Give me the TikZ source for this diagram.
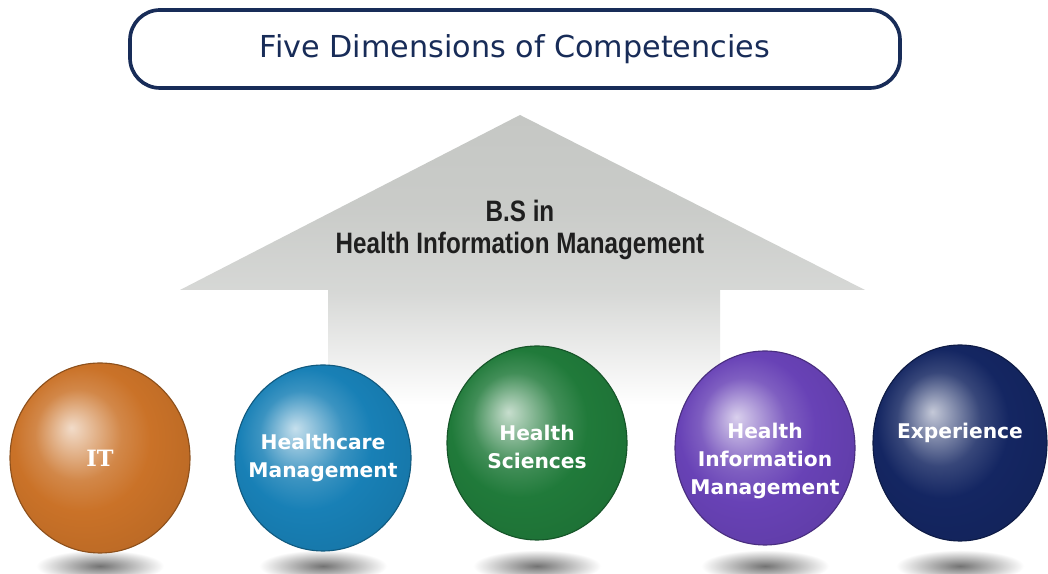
\documentclass[tikz,border=0pt]{standalone}
\usepackage{fontspec}
\setmainfont{DejaVu Sans}
\newfontfamily\narrowsans[FakeStretch=0.82]{Liberation Sans}
\newfontfamily\slabfont{DejaVu Serif}
\usetikzlibrary{shapes.geometric}

\definecolor{titlenavy}{RGB}{24,44,88}
\definecolor{arrowgray}{RGB}{197,199,196}
\definecolor{itorange}{RGB}{202,114,40}
\definecolor{hcblue}{RGB}{24,128,182}
\definecolor{hsgreen}{RGB}{32,122,58}
\definecolor{himpurple}{RGB}{104,66,182}
\definecolor{expnavy}{RGB}{20,38,98}

% glossy ball, highlight up left, colour taken from "orb"
\colorlet{orb}{itorange}
\pgfdeclareradialshading[orb]{orbshade}{\pgfqpoint{-8bp}{8bp}}{%
  color(0bp)=(orb!25!white); color(5bp)=(orb!50!white);
  color(12bp)=(orb!85!white); color(19bp)=(orb);
  color(30bp)=(orb!93!black); color(38bp)=(orb!80!black);
  color(50bp)=(orb!75!black)}
% big arrow: grey head, shaft fading out
\pgfdeclareverticalshading{arrowfade}{100bp}{%
  color(0bp)=(white); color(29bp)=(white);
  color(47bp)=(arrowgray!70!white); color(60bp)=(arrowgray!92!white);
  color(75bp)=(arrowgray); color(100bp)=(arrowgray)}

\begin{document}
\begin{tikzpicture}[
  titlebox/.style={rectangle, draw=titlenavy, line width=2.6pt, fill=white, rounded corners=0.75cm,
    minimum width=19.25cm, minimum height=1.95cm, text=titlenavy, font=\fontsize{21.5}{26}\selectfont},
  orb/.style={ellipse, shade, shading=orbshade, draw=#1!70!black, line width=0.8pt, outer sep=0pt,
    /utils/exec={\colorlet{orb}{#1}}},
  orblabel/.style={text=white, align=center, font=\bfseries\fontsize{14.4}{20}\selectfont},
  orbshadow/.style={inner color=black!55, outer color=white}
]
\useasboundingbox (0,0) rectangle (26.2,14.35);
\fill[white] (0,0) rectangle (26.2,14.35);

% Arrow
\shade[shading=arrowfade] (13,11.475) -- (21.625,7.1) -- (18,7.1) -- (18,3.6)
  -- (8.2,3.6) -- (8.2,7.1) -- (4.5,7.1) -- cycle;
\node[align=center, text=black!88, font=\narrowsans\bfseries\fontsize{21}{22.7}\selectfont] (degree) at (13,8.6)
  {B.S in\\Health Information Management};

% Shadows
\foreach \x in {2.5,8.075,13.425,19.125,24.0}
  \shade[orbshadow] (\x,0.2) ellipse [x radius=1.6, y radius=0.4];

% Spheres
\node[orb=itorange, minimum width=4.5cm, minimum height=4.75cm] (it) at (2.5,2.9) {};
\node[orb=hcblue, minimum width=4.4cm, minimum height=4.65cm] (hc) at (8.075,2.9) {};
\node[orb=hsgreen, minimum width=4.5cm, minimum height=4.85cm] (hs) at (13.425,3.275) {};
\node[orb=himpurple, minimum width=4.5cm, minimum height=4.85cm] (him) at (19.125,3.15) {};
\node[orb=expnavy, minimum width=4.35cm, minimum height=4.9cm] (exp) at (24.0,3.275) {};

% Labels
\node[orblabel, font=\slabfont\bfseries\fontsize{16}{20}\selectfont] (itlabel) at (it) {IT};
\node[orblabel] (hclabel) at (hc) {Healthcare\\Management};
\node[orblabel, yshift=-0.1cm] (hslabel) at (hs) {Health\\Sciences};
\node[orblabel, yshift=-0.32cm] (himlabel) at (him) {Health\\Information\\Management};
\node[orblabel, yshift=0.25cm] (explabel) at (exp) {Experience};

% Title
\node[titlebox] (title) at (12.875,13.125) {Five Dimensions of Competencies};
\end{tikzpicture}
\end{document}
